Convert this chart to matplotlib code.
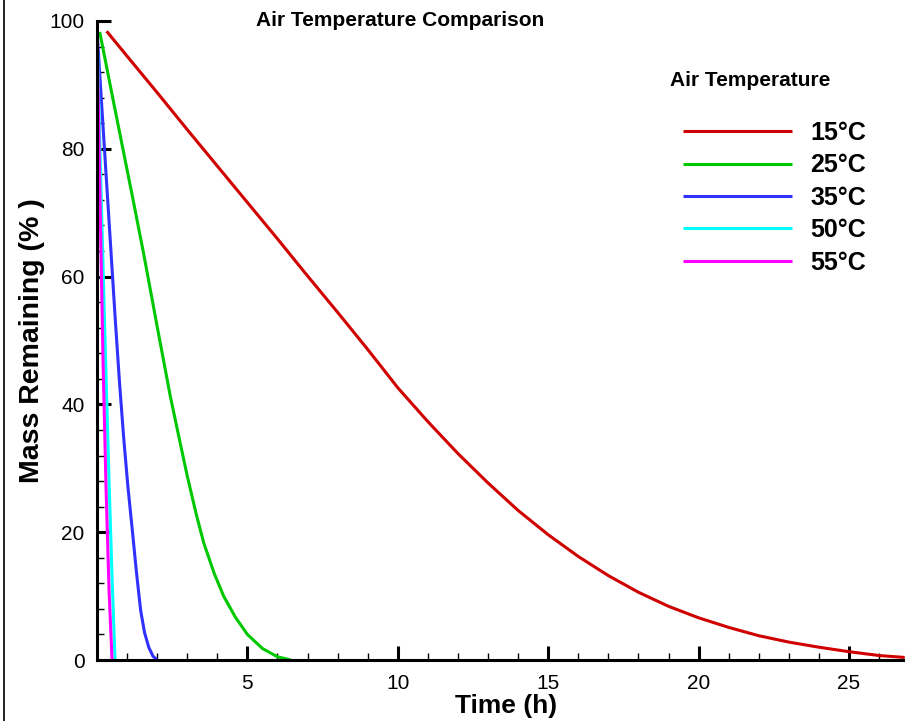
import matplotlib
matplotlib.use("Agg")
import matplotlib.pyplot as plt
from matplotlib.lines import Line2D
from matplotlib.ticker import MultipleLocator

plt.rcParams['font.family'] = ['Liberation Sans', 'DejaVu Sans']

# Data (Time in h, Mass remaining in %)
t15 = [0.32, 1, 2, 3, 4, 5, 6, 7, 8, 9, 10, 11, 12, 13, 14, 15, 16, 17, 18, 19, 20,
       21, 22, 23, 24, 25, 26, 26.85]
m15 = [98.4, 94.5, 88.8, 83.0, 77.3, 71.6, 65.9, 60.1, 54.4, 48.6, 42.6, 37.3, 32.3,
       27.7, 23.4, 19.6, 16.2, 13.2, 10.6, 8.4, 6.6, 5.1, 3.8, 2.8, 2.0, 1.3, 0.7, 0.4]

t25 = [0.09, 0.5, 0.89, 1.2, 1.55, 2.0, 2.44, 2.75, 3.0, 3.3, 3.55, 3.9, 4.21, 4.6,
       5.0, 5.5, 6.0, 6.45]
m25 = [98.3, 88.5, 79.3, 72.0, 63.6, 52.2, 41.2, 34.3, 28.8, 22.8, 18.3, 13.5, 10.0,
       6.7, 4.0, 1.8, 0.5, 0.0]

t35 = [0.0, 0.15, 0.3, 0.45, 0.6, 0.75, 0.89, 1.03, 1.17, 1.31, 1.45, 1.58, 1.72, 1.86, 2.0]
m35 = [98.5, 87.3, 76.1, 65.0, 53.8, 43.3, 34.6, 27.0, 20.5, 13.8, 7.8, 4.3, 2.0, 0.6, 0.0]

t50 = [0.0, 0.12, 0.25, 0.4, 0.5, 0.6]
m50 = [98.5, 76.0, 53.0, 28.0, 13.0, 0.0]

t55 = [0.0, 0.1, 0.2, 0.3, 0.4, 0.5]
m55 = [98.5, 72.0, 47.0, 27.0, 11.0, 0.0]

labels = ["15\u00b0C", "25\u00b0C", "35\u00b0C", "50\u00b0C", "55\u00b0C"]
colors = ["#d00000", "#00c800", "#3030ff", "#00ffff", "#ff00ff"]
series = [(t15, m15), (t25, m25), (t35, m35), (t50, m50), (t55, m55)]

fig = plt.figure(figsize=(9.05, 7.21), dpi=100)
ax = fig.add_axes([97/905, 1-660/721, 1-97/905, (660-21)/721])

for (t, m), c, lab in zip(series, colors, labels):
    ax.plot(t, m, color=c, lw=2.2, label=lab, solid_capstyle='butt', solid_joinstyle='round')

ax.set_xlim(0, 26.86)
ax.set_ylim(0, 100)
ax.spines['top'].set_visible(False)
ax.spines['right'].set_visible(False)
ax.spines['left'].set_linewidth(2.2)
ax.spines['bottom'].set_linewidth(2.2)

ax.xaxis.set_major_locator(MultipleLocator(5))
ax.xaxis.set_minor_locator(MultipleLocator(1))
ax.yaxis.set_major_locator(MultipleLocator(20))
ax.yaxis.set_minor_locator(MultipleLocator(4))
ax.set_xticks([5, 10, 15, 20, 25])
ax.tick_params(which='major', direction='in', length=10, width=2.2, labelsize=15, pad=10)
ax.tick_params(which='minor', direction='in', length=5, width=1)
ax.tick_params(axis='y', which='major', pad=9)

ax.set_xlabel("Time (h)", fontsize=19, fontweight='bold', va='center')
ax.xaxis.set_label_coords(0.506, (660-706)/639)
ax.set_ylabel("Mass Remaining (% )", fontsize=20.5, fontweight='bold', va='center')
ax.yaxis.set_label_coords((32-97)/808, 0.5)

fig.text(400/905, 1-20/721, "Air Temperature Comparison", ha='center', va='center',
         fontsize=15, fontweight='bold')
fig.text(670/905, 1-80/721, "Air Temperature", ha='left', va='center',
         fontsize=15, fontweight='bold')

leg = ax.legend(loc='upper left', bbox_to_anchor=(683/905, 1-121/721), bbox_transform=fig.transFigure,
                frameon=False, handlelength=4.36, handletextpad=0.72,
                labelspacing=0.335, borderpad=0, borderaxespad=0,
                prop={'size': 18, 'weight': 'bold'})

fig.add_artist(Line2D([3.5/905, 3.5/905], [0, 1], transform=fig.transFigure, color='black', lw=1.2))

fig.savefig("out.png", dpi=100)
